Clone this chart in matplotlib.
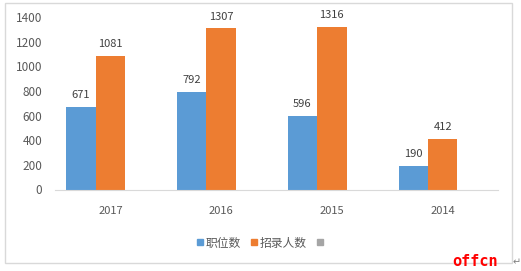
import matplotlib.pyplot as plt
import numpy as np
from matplotlib.lines import Line2D
from matplotlib.patches import Rectangle

plt.rcParams['font.family'] = ['Noto Sans CJK SC', 'DejaVu Sans']

# data
years = ['2017', '2016', '2015', '2014']
positions = [671, 792, 596, 190]     # 职位数
recruits = [1081, 1307, 1316, 412]   # 招录人数
series_names = ['职位数', '招录人数', '']

blue = '#5B9BD5'
orange = '#ED7D31'
gray = '#A5A5A5'
text_col = '#595959'

fig = plt.figure(figsize=(5.21, 2.71), dpi=100)
ax = fig.add_axes([55/521, 1 - 189.5/271, 443/521, 172.5/271])

x = np.arange(len(years))
w = 0.265
b1 = ax.bar(x - w, positions, w, color=blue)
b2 = ax.bar(x, recruits, w, color=orange)

for bars, vals in [(b1, positions), (b2, recruits)]:
    for r, v in zip(bars, vals):
        ax.annotate(str(v), (r.get_x() + r.get_width() / 2, v),
                    xytext=(0, 5), textcoords='offset points',
                    ha='center', va='bottom', fontsize=8, color='#404040')

ax.set_xlim(-0.5, len(years) - 0.5)
ax.set_ylim(0, 1400)
ax.set_yticks(range(0, 1401, 200))
ax.set_xticks(x)
ax.set_xticklabels(years)
ax.tick_params(axis='x', length=0, pad=12, labelsize=8, labelcolor=text_col)
ax.tick_params(axis='y', length=0, pad=9, labelsize=8.5, labelcolor=text_col)

for s in ['top', 'right', 'left']:
    ax.spines[s].set_visible(False)
ax.spines['bottom'].set_color('#D9D9D9')

# legend
handles = [Line2D([], [], marker='s', linestyle='none', color=c, markersize=5)
           for c in [blue, orange, gray]]
fig.legend(handles, series_names, loc='center', bbox_to_anchor=(0.5, 1 - 243/271),
           ncol=3, frameon=False, fontsize=8.5, handletextpad=0.1,
           columnspacing=0.7, handlelength=0.8, labelcolor=text_col)

# chart border
fig.patches.append(Rectangle((5/521, 1 - 263/271), 507/521, 260/271,
                             transform=fig.transFigure, fill=False,
                             edgecolor='#D9D9D9', linewidth=1))

fig.text(452/521, 1 - 262/271, 'offcn', color='red', fontsize=11,
         fontweight='bold', family='DejaVu Sans Mono', va='center', ha='left')
fig.text(517/521, 1 - 262/271, '↵', color='#808080', fontsize=7,
         family='DejaVu Sans', va='center', ha='center')

fig.savefig('out.png', dpi=100)
